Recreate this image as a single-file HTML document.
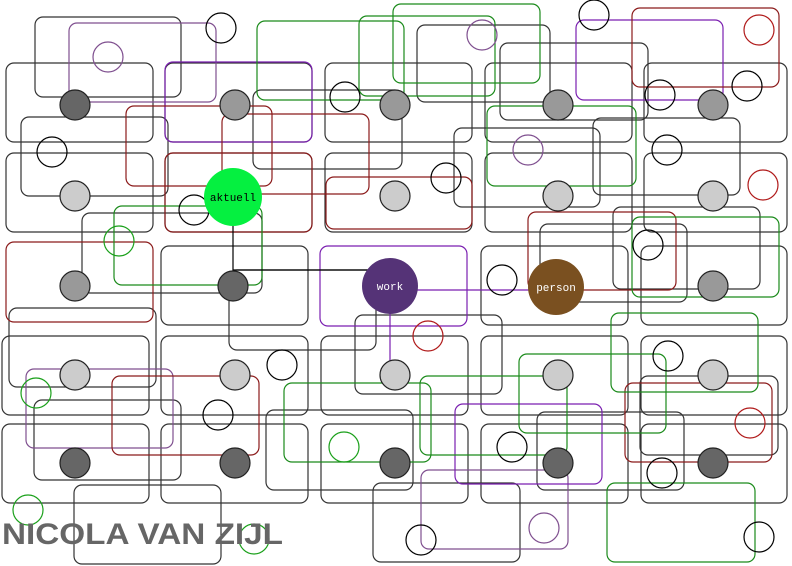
<!DOCTYPE html>
<html><head><meta charset="utf-8"><style>body{margin:0;background:#fff}svg{display:block}</style></head>
<body>
<svg width="792" height="566" viewBox="0 0 792 566" xmlns="http://www.w3.org/2000/svg">
<g fill="none" stroke-width="1.2">
<!-- base grid -->
<g stroke="#333">
<rect x="6" y="63" width="147" height="79" rx="8"/><rect x="165" y="63" width="147" height="79" rx="8"/><rect x="325" y="63" width="147" height="79" rx="8"/><rect x="485" y="63" width="147" height="79" rx="8"/><rect x="644" y="63" width="143" height="79" rx="8"/>
<rect x="6" y="153" width="147" height="79" rx="8"/><rect x="165" y="153" width="147" height="79" rx="8"/><rect x="325" y="153" width="147" height="79" rx="8"/><rect x="485" y="153" width="147" height="79" rx="8"/><rect x="644" y="153" width="143" height="79" rx="8"/>
<rect x="161" y="246" width="147" height="79" rx="8"/><rect x="481" y="246" width="147" height="79" rx="8"/><rect x="641" y="246" width="146" height="79" rx="8"/>
<rect x="2" y="336" width="147" height="79" rx="8"/><rect x="161" y="336" width="147" height="79" rx="8"/><rect x="321" y="336" width="147" height="79" rx="8"/><rect x="481" y="336" width="147" height="79" rx="8"/><rect x="641" y="336" width="146" height="79" rx="8"/>
<rect x="2" y="424" width="147" height="79" rx="8"/><rect x="161" y="424" width="147" height="79" rx="8"/><rect x="321" y="424" width="147" height="79" rx="8"/><rect x="481" y="424" width="147" height="79" rx="8"/><rect x="641" y="424" width="146" height="79" rx="8"/>
<!-- overlays black -->
<rect x="35" y="17" width="146" height="80" rx="8"/><rect x="21" y="117" width="147" height="79" rx="8"/><rect x="82" y="213" width="180" height="80" rx="8"/>
<rect x="253" y="90" width="149" height="79" rx="8"/><rect x="417" y="25" width="133" height="77" rx="8"/><rect x="454" y="128" width="146" height="79" rx="8"/>
<rect x="500" y="43" width="148" height="77" rx="8"/><rect x="593" y="118" width="147" height="77" rx="8"/><rect x="540" y="224" width="147" height="78" rx="8"/>
<rect x="613" y="207" width="147" height="82" rx="8"/><rect x="229" y="270" width="147" height="80" rx="8"/><rect x="355" y="315" width="147" height="79" rx="8"/>
<rect x="9" y="308" width="147" height="79" rx="8"/><rect x="34" y="400" width="147" height="80" rx="8"/><rect x="266" y="410" width="147" height="80" rx="8"/>
<rect x="537" y="412" width="147" height="78" rx="8"/><rect x="373" y="483" width="147" height="79" rx="8"/><rect x="74" y="485" width="147" height="79" rx="8"/>
<rect x="640" y="376" width="138" height="79" rx="8"/>
</g>
<g stroke="#7f4f8f"><rect x="69" y="23" width="147" height="79" rx="8"/><rect x="26" y="369" width="147" height="79" rx="8"/><rect x="421" y="470" width="147" height="79" rx="8"/></g>
<g stroke="#7a1fb0"><rect x="165" y="62" width="147" height="80" rx="8"/><rect x="320" y="246" width="147" height="80" rx="8"/><rect x="576" y="20" width="147" height="80" rx="8"/><rect x="455" y="404" width="147" height="80" rx="8"/></g>
<g stroke="#8b1a1a"><rect x="126" y="106" width="146" height="80" rx="8"/><rect x="222" y="114" width="147" height="80" rx="8"/><rect x="165" y="153" width="147" height="79" rx="8"/><rect x="326" y="177" width="146" height="52" rx="8"/><rect x="632" y="8" width="147" height="79" rx="8"/><rect x="528" y="212" width="148" height="78" rx="8"/><rect x="6" y="242" width="147" height="80" rx="8"/><rect x="112" y="376" width="147" height="79" rx="8"/><rect x="625" y="383" width="147" height="79" rx="8"/></g>
<g stroke="#1a8a1a"><rect x="257" y="21" width="147" height="79" rx="8"/><rect x="359" y="16" width="136" height="80" rx="8"/><rect x="393" y="4" width="147" height="79" rx="8"/><rect x="487" y="106" width="149" height="80" rx="8"/><rect x="632" y="217" width="147" height="80" rx="8"/><rect x="114" y="206" width="148" height="79" rx="8"/><rect x="611" y="313" width="147" height="79" rx="8"/><rect x="284" y="383" width="147" height="79" rx="8"/><rect x="420" y="376" width="147" height="79" rx="8"/><rect x="519" y="354" width="147" height="79" rx="8"/><rect x="607" y="483" width="148" height="79" rx="8"/></g>
<!-- connectors -->
<line x1="233" y1="270" x2="390" y2="270" stroke="#000"/>
<line x1="233" y1="226" x2="233" y2="286" stroke="#000"/>
<line x1="390" y1="290" x2="556" y2="290" stroke="#7a1fb0"/>
<line x1="390" y1="300" x2="390" y2="375" stroke="#7a1fb0"/>
<!-- empty circles -->
<g stroke="#000"><circle cx="221" cy="28" r="15"/><circle cx="594" cy="15" r="15"/><circle cx="52" cy="152" r="15"/><circle cx="345" cy="97" r="15"/><circle cx="446" cy="178" r="15"/><circle cx="194" cy="210" r="15"/><circle cx="502" cy="280" r="15"/><circle cx="282" cy="365" r="15"/><circle cx="218" cy="415" r="15"/><circle cx="512" cy="447" r="15"/><circle cx="660" cy="95" r="15"/><circle cx="747" cy="86" r="15"/><circle cx="667" cy="150" r="15"/><circle cx="648" cy="245" r="15"/><circle cx="668" cy="356" r="15"/><circle cx="662" cy="473" r="15"/><circle cx="759" cy="537" r="15"/><circle cx="421" cy="540" r="15"/></g>
<g stroke="#7f4f8f"><circle cx="108" cy="57" r="15"/><circle cx="482" cy="35" r="15"/><circle cx="528" cy="150" r="15"/><circle cx="544" cy="528" r="15"/></g>
<g stroke="#b01a1a"><circle cx="759" cy="30" r="15"/><circle cx="763" cy="185" r="15"/><circle cx="428" cy="336" r="15"/><circle cx="750" cy="423" r="15"/></g>
<g stroke="#1aa01a"><circle cx="119" cy="241" r="15"/><circle cx="36" cy="393" r="15"/><circle cx="344" cy="447" r="15"/><circle cx="28" cy="510" r="15"/><circle cx="254" cy="539" r="15"/></g>
</g>
<!-- nodes -->
<g stroke="#222" stroke-width="1.2">
<circle cx="75" cy="105" r="15" fill="#666"/><circle cx="235" cy="105" r="15" fill="#999"/><circle cx="395" cy="105" r="15" fill="#999"/><circle cx="558" cy="105" r="15" fill="#999"/><circle cx="713" cy="105" r="15" fill="#999"/>
<circle cx="75" cy="196" r="15" fill="#ccc"/><circle cx="395" cy="196" r="15" fill="#ccc"/><circle cx="558" cy="196" r="15" fill="#ccc"/><circle cx="713" cy="196" r="15" fill="#ccc"/>
<circle cx="75" cy="286" r="15" fill="#999"/><circle cx="233" cy="286" r="15" fill="#666"/><circle cx="713" cy="286" r="15" fill="#999"/>
<circle cx="75" cy="375" r="15" fill="#ccc"/><circle cx="235" cy="375" r="15" fill="#ccc"/><circle cx="395" cy="375" r="15" fill="#ccc"/><circle cx="558" cy="375" r="15" fill="#ccc"/><circle cx="713" cy="375" r="15" fill="#ccc"/>
<circle cx="75" cy="463" r="15" fill="#666"/><circle cx="235" cy="463" r="15" fill="#666"/><circle cx="395" cy="463" r="15" fill="#666"/><circle cx="558" cy="463" r="15" fill="#666"/><circle cx="713" cy="463" r="15" fill="#666"/>
</g>
<circle cx="233" cy="197" r="29" fill="#05f040"/>
<circle cx="390" cy="286" r="28" fill="#553377"/>
<circle cx="556" cy="287" r="28" fill="#7a5020"/>
<g font-family="Liberation Mono, monospace" font-size="11" text-anchor="middle">
<text x="233" y="201" fill="#000">aktuell</text>
<text x="390" y="290" fill="#fff">work</text>
<text x="556" y="291" fill="#fff">person</text>
</g>
<text x="2" y="544" font-family="Liberation Sans, sans-serif" font-weight="bold" font-size="30" fill="#666" textLength="281" lengthAdjust="spacingAndGlyphs">NICOLA VAN ZIJL</text>
</svg>
</body></html>
